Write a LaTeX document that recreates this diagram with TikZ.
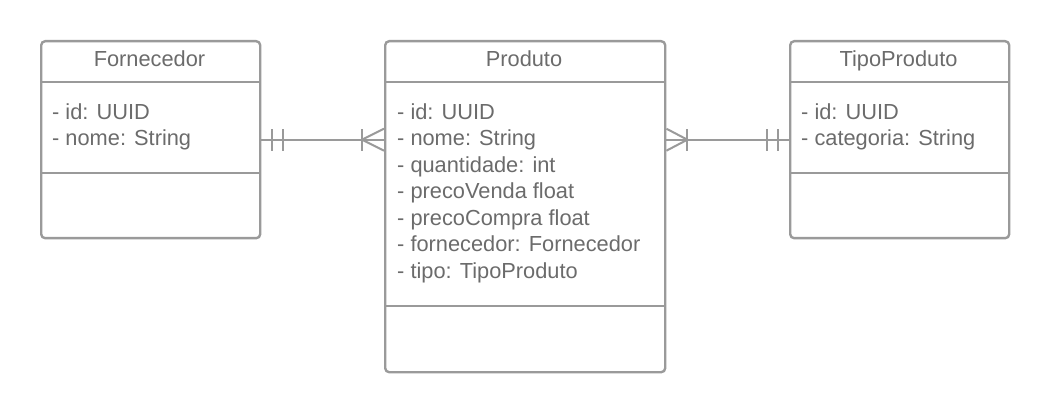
\documentclass[tikz,border=0pt]{standalone}
\usepackage{fontspec}
\setmainfont{Liberation Sans}
\definecolor{linec}{HTML}{9A9A9A}
\definecolor{textc}{HTML}{6B6B6B}
\begin{document}
\begin{tikzpicture}[x=1pt,y=-1pt,
  box/.style={draw=linec, line width=2.4pt, rounded corners=4pt, inner sep=0pt, anchor=north west},
  div/.style={draw=linec, line width=2.4pt},
  txt/.style={text=textc, font=\fontsize{21.8}{26}\selectfont, inner sep=0pt},
  conn/.style={draw=linec, line width=2pt}]
\useasboundingbox (0,0) rectangle (1049,411);
% boxes
\node[box, minimum width=219pt, minimum height=197pt] (forn) at (40,40) {};
\node[box, minimum width=280pt, minimum height=331pt] (prod) at (384,40) {};
\node[box, minimum width=219pt, minimum height=197pt] (tipo) at (789,40) {};
% dividers
\draw[div] ([yshift=-42pt]forn.north west) -- ([yshift=-42pt]forn.north east);
\draw[div] ([yshift=-133pt]forn.north west) -- ([yshift=-133pt]forn.north east);
\draw[div] ([yshift=-42pt]prod.north west) -- ([yshift=-42pt]prod.north east);
\draw[div] ([yshift=-266pt]prod.north west) -- ([yshift=-266pt]prod.north east);
\draw[div] ([yshift=-42pt]tipo.north west) -- ([yshift=-42pt]tipo.north east);
\draw[div] ([yshift=-133pt]tipo.north west) -- ([yshift=-133pt]tipo.north east);
% titles
\node[txt, anchor=base] (fornT) at (149.5,66.5) {Fornecedor};
\node[txt, anchor=base] (prodT) at (524,66.5) {Produto};
\node[txt, anchor=base] (tipoT) at (898.5,66.5) {TipoProduto};
% attributes
\node[txt, anchor=base west] (fornA1) at (52,119.5) {- id: UUID};
\node[txt, anchor=base west] (fornA2) at (52,146) {- nome: String};
\node[txt, anchor=base west] (tipoA1) at (801,119.5) {- id: UUID};
\node[txt, anchor=base west] (tipoA2) at (801,146) {- categoria: String};
\node[txt, anchor=base west] (prodA1) at (397,119.5) {- id: UUID};
\node[txt, anchor=base west] (prodA2) at (397,146) {- nome: String};
\node[txt, anchor=base west] (prodA3) at (397,172.5) {- quantidade: int};
\node[txt, anchor=base west] (prodA4) at (397,199) {- precoVenda float};
\node[txt, anchor=base west] (prodA5) at (397,225.5) {- precoCompra float};
\node[txt, anchor=base west] (prodA6) at (397,252) {- fornecedor: Fornecedor};
\node[txt, anchor=base west] (prodA7) at (397,278.5) {- tipo: TipoProduto};
% connector Fornecedor -- Produto
\coordinate (fp) at (forn.east -| prod.west);
\draw[conn] (forn.east) -- (fp);
\draw[conn] ([xshift=11pt,yshift=-11pt]forn.east) -- ([xshift=11pt,yshift=11pt]forn.east);
\draw[conn] ([xshift=22pt,yshift=-11pt]forn.east) -- ([xshift=22pt,yshift=11pt]forn.east);
\draw[conn] ([xshift=-22pt,yshift=-11pt]fp) -- ([xshift=-22pt,yshift=11pt]fp);
\draw[conn] ([yshift=11pt]fp) -- ([xshift=-22pt]fp) -- ([yshift=-11pt]fp);
% connector Produto -- TipoProduto
\coordinate (pt) at (tipo.west -| prod.east);
\draw[conn] (pt) -- (tipo.west);
\draw[conn] ([xshift=-11pt,yshift=-11pt]tipo.west) -- ([xshift=-11pt,yshift=11pt]tipo.west);
\draw[conn] ([xshift=-22pt,yshift=-11pt]tipo.west) -- ([xshift=-22pt,yshift=11pt]tipo.west);
\draw[conn] ([xshift=21pt,yshift=-11pt]pt) -- ([xshift=21pt,yshift=11pt]pt);
\draw[conn] ([yshift=11pt]pt) -- ([xshift=21pt]pt) -- ([yshift=-11pt]pt);
\end{tikzpicture}
\end{document}
